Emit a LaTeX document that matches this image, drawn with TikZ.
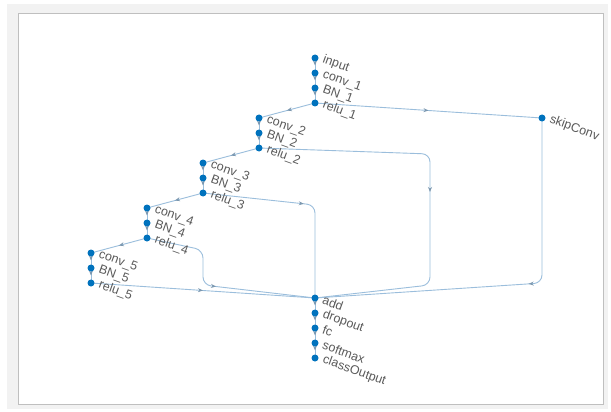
\documentclass[tikz,border=0pt]{standalone}
\usepackage{fontspec}
\setmainfont{Liberation Sans}
\usetikzlibrary{arrows.meta,decorations.markings,backgrounds}

\definecolor{dotc}{HTML}{0072BD}
\definecolor{edgec}{RGB}{155,190,220}
\definecolor{labc}{RGB}{90,90,90}

\tikzset{
  dot/.style={circle,fill=dotc,draw=none,inner sep=0pt,minimum size=7pt},
  lab/.style={anchor=west,rotate=-20,text=labc,inner sep=0pt,
              font=\fontsize{12.5}{12.5}\selectfont},
  edge/.style={draw=edgec,line width=0.9pt,rounded corners=8pt},
  arrat/.style={postaction={decorate,decoration={markings,
      mark=at position #1 with {\arrow[edgec!80!black]{Stealth[length=5pt,width=4pt]}}}}},
  arrat/.default=0.5
}

\begin{document}
\begin{tikzpicture}[x=1pt,y=-1pt]
\useasboundingbox (0,0) rectangle (611,412);

% layers: main column, four branch columns and the skip branch
\foreach \n/\x/\y in {input/315/58, conv_1/315/73, BN_1/315/88, relu_1/315/103,
  conv_2/259/118, BN_2/259/133, relu_2/259/148,
  conv_3/203/163, BN_3/203/178, relu_3/203/193,
  conv_4/147/208, BN_4/147/223, relu_4/147/238,
  conv_5/91/253, BN_5/91/268, relu_5/91/283,
  add/315/298, dropout/315/313, fc/315/328, softmax/315/343, classOutput/315/358,
  skipConv/542/118}{
  \node[dot] (\n) at (\x,\y) {};
  \node[lab] (t-\n) at (\x+8,\y+1.5) {\detokenize\expandafter{\n}};
}

\begin{scope}[on background layer]
  % window frame
  \fill[gray!10] (7,4) rectangle (608,409);
  \filldraw[fill=white,draw=gray!50,line width=0.8pt] (18,13) rectangle (603,404);

  % sequential connections
  \foreach \a/\b in {input/conv_1, conv_1/BN_1, BN_1/relu_1,
      relu_1/conv_2, conv_2/BN_2, BN_2/relu_2,
      relu_2/conv_3, conv_3/BN_3, BN_3/relu_3,
      relu_3/conv_4, conv_4/BN_4, BN_4/relu_4,
      relu_4/conv_5, conv_5/BN_5, BN_5/relu_5,
      add/dropout, dropout/fc, fc/softmax, softmax/classOutput}
    \path[edge,arrat] (\a.center) -- (\b.center);

  % skip branch
  \path[edge,arrat] (relu_1.center) -- (skipConv.center);
  \path[edge,arrat=0.45] (skipConv.center) -- (542,283) -- (add.center);

  % branches into the addition layer
  \path[edge,arrat] (relu_2.center) -- (430,154) -- (430,285) -- (add.center);
  \path[edge,arrat] (relu_3.center) -- (315,205) -- (add.center);
  \path[edge,arrat] (relu_4.center) -- (203,250) -- (203,285) -- (add.center);
  \path[edge,arrat] (relu_5.center) -- (add.center);
\end{scope}
\end{tikzpicture}
\end{document}
